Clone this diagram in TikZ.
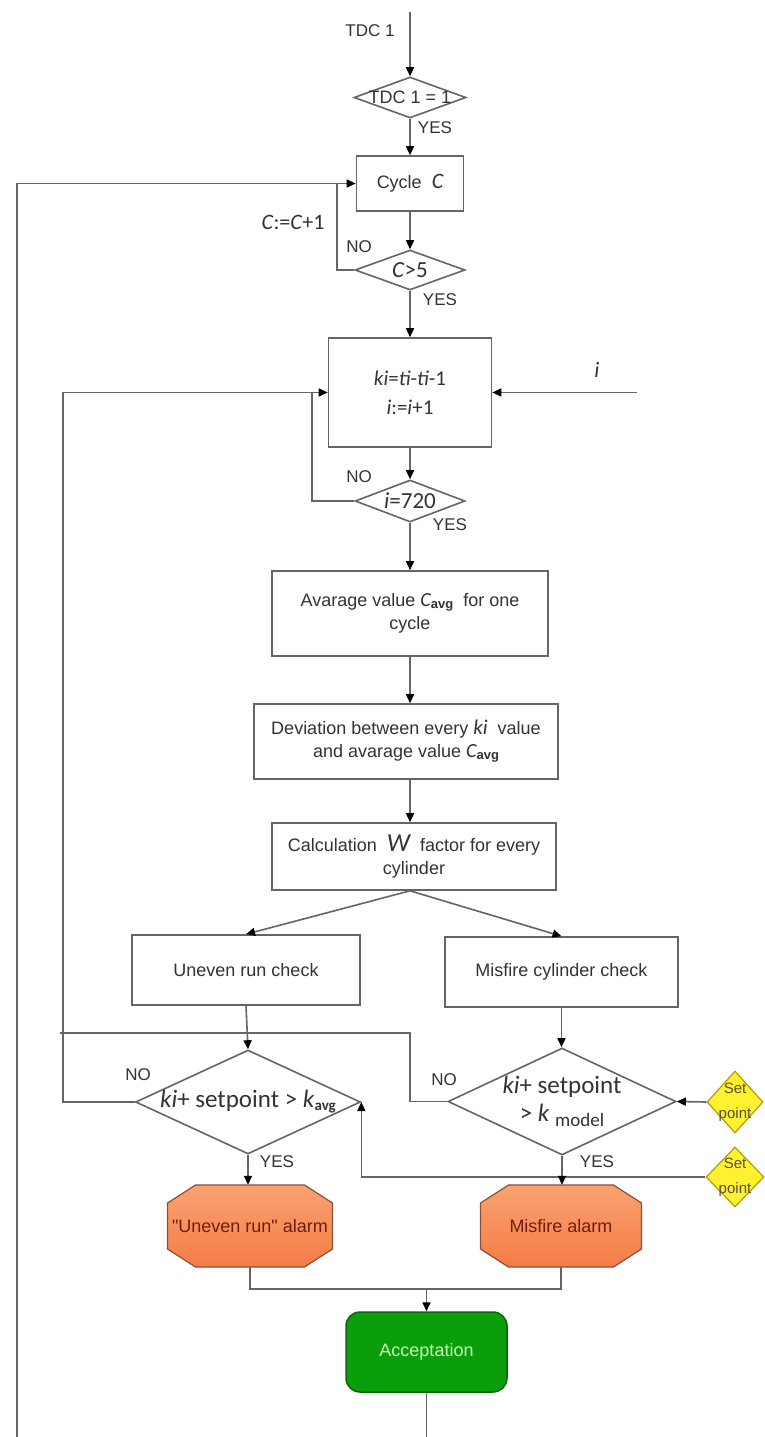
\documentclass[tikz,border=0pt]{standalone}
\usepackage{fontspec}
\setmainfont{Liberation Sans}
\newfontfamily\carl{Carlito}
\usetikzlibrary{shapes.geometric,arrows.meta,calc}
\definecolor{lncol}{HTML}{656565}
\definecolor{txcol}{HTML}{333333}
\definecolor{alfillA}{HTML}{FBA272}
\definecolor{alfillB}{HTML}{F47C46}
\definecolor{aldraw}{HTML}{8A5038}
\definecolor{altext}{HTML}{6E1E0A}
\definecolor{accfill}{HTML}{0A9E0A}
\definecolor{accdraw}{HTML}{0B650B}
\definecolor{acctext}{HTML}{C8F5B8}
\definecolor{spfill}{HTML}{FFF030}
\definecolor{spdraw}{HTML}{B0A000}
\definecolor{sptext}{HTML}{5A5030}
\newcommand\fsz[2]{\fontsize{#1}{#2}\selectfont}
\newcommand\avgsub{\raisebox{-2pt}{\fsz{13}{13}\bfseries avg}}
\newcommand\octshape[4]{%
 \shadedraw[octa] ({#1-#3+28},{#2-#4}) -- ({#1+#3-28},{#2-#4}) -- ({#1+#3},{#2-#4+18}) -- ({#1+#3},{#2+#4-18}) -- ({#1+#3-28},{#2+#4}) -- ({#1-#3+28},{#2+#4}) -- ({#1-#3},{#2+#4-18}) -- ({#1-#3},{#2-#4+18}) -- cycle;}
\begin{document}
\begin{tikzpicture}[x=1pt,y=-1pt,
 ln/.style={draw=lncol,line width=1.6pt},
 arr/.style={ln,-{Triangle[length=9pt,width=8pt,color=black]}},
 box/.style={rectangle,draw=lncol,line width=1.6pt,fill=white,inner sep=0pt,align=center,text=txcol,font=\fsz{18}{23}},
 dia/.style={diamond,draw=lncol,line width=1.6pt,fill=white,inner sep=0pt},
 lab/.style={inner sep=0pt,text=txcol,font=\fsz{17}{20}},
 frm/.style={inner sep=0pt,text=txcol,align=center},
 octa/.style={draw=aldraw,line width=1.2pt,top color=alfillA,bottom color=alfillB},
 alarm/.style={rectangle,inner sep=0pt,text=altext,font=\fsz{18}{20}},
 accbox/.style={rectangle,rounded corners=14pt,draw=accdraw,line width=1.5pt,fill=accfill,text=acctext,font=\fsz{18}{22},inner sep=0pt},
 spdia/.style={diamond,draw=spdraw,line width=1.2pt,fill=spfill,inner sep=0pt},
 sptxt/.style={inner sep=0pt,text=sptext,align=center,font=\fsz{15}{25}},
]
\useasboundingbox (0,0) rectangle (764,1437);
\fill[white] (0,0) rectangle (764,1437);

% ---------- nodes ----------
\node[lab] (tdcl) at (370,31) {TDC 1};
\coordinate (top) at (410,12);
\node[dia,minimum width=112pt,minimum height=41pt] (d1) at (410,97.5) {};
\node[frm,font=\fsz{18}{20}] (d1t) at (d1) {TDC 1 = 1};

\node[box,minimum width=107pt,minimum height=55pt] (cyc) at (410,183.5) {Cycle\ \ {\carl\fsz{22}{22}\itshape C}};

\node[dia,minimum width=110pt,minimum height=40pt] (d2) at (410,270) {};
\node[frm,font=\carl\fsz{23}{24}] (d2t) at (d2) {\textit{C}>5};

\node[box,minimum width=163pt,minimum height=109pt,font=\carl\fsz{21}{29}] (main) at (410,392.5) {\textit{ki}=\textit{ti}-\textit{ti}-1\\\textit{i}:=\textit{i}+1};

\node[dia,minimum width=110pt,minimum height=42pt] (d3) at (410,501) {};
\node[frm,font=\carl\fsz{23}{24}] (d3t) at (d3) {\textit{i}=720};

\node[box,minimum width=276pt,minimum height=85pt] (avg) at (410,613.5) {Avarage value {\carl\fsz{20}{20}\itshape C}\avgsub\ \ for one\\cycle};

\node[box,minimum width=304pt,minimum height=75pt] (dev) at (406,741.5) {Deviation between every {\carl\fsz{21}{21}\itshape ki}\ \ value\\and avarage value {\carl\fsz{20}{20}\itshape C}\avgsub};

\node[box,minimum width=284pt,minimum height=67pt] (calc) at (414,856.5) {Calculation\ \ {\carl\fsz{26}{26}\itshape W}\ \ factor for every\\cylinder};

\node[box,minimum width=228pt,minimum height=70pt] (unev) at (246,970) {Uneven run check};
\node[box,minimum width=233pt,minimum height=70pt] (misc) at (561.5,972) {Misfire cylinder check};

\node[dia,minimum width=225pt,minimum height=104pt] (d4) at (248,1102) {};
\node[frm,font=\carl\fsz{25}{28}] (d4t) at (d4) {\textit{ki}+ setpoint > \textit{k}\raisebox{-3pt}{\fsz{15}{15}\bfseries avg}};

\node[dia,minimum width=228pt,minimum height=107pt] (d5) at (562,1101.5) {};
\node[frm,font=\carl\fsz{25}{28}] (d5t) at (d5) {\textit{ki}+ setpoint\\> \textit{k}\ \raisebox{-5pt}{\fsz{19}{19}model}};

\node[spdia,minimum width=56pt,minimum height=62pt] (sp1) at (735,1102) {};
\node[sptxt] (sp1t) at (sp1) {Set\\point};
\node[spdia,minimum width=58pt,minimum height=60pt] (sp2) at (735,1177) {};
\node[sptxt] (sp2t) at (sp2) {Set\\point};

\octshape{250}{1226}{82.5}{41}
\node[alarm,minimum width=165pt,minimum height=82pt] (ua) at (250,1226) {\textquotedbl Uneven run\textquotedbl\ alarm};
\octshape{561}{1226}{80.5}{41}
\node[alarm,minimum width=161pt,minimum height=82pt] (ma) at (561,1226) {Misfire alarm};

\node[accbox,minimum width=161pt,minimum height=80pt] (acc) at (426.5,1352) {Acceptation};

% ---------- labels ----------
\node[lab] (y1) at (435,128) {YES};
\node[lab,font=\carl\fsz{22}{22}] (cinc) at (293,222) {\textit{C}:=\textit{C}+1};
\node[lab] (n2) at (359,247) {NO};
\node[lab] (y2) at (440,300) {YES};
\node[lab,font=\carl\fsz{22}{22}] (ilab) at (597,370) {\textit{i}};
\node[lab] (n3) at (359,477) {NO};
\node[lab] (y3) at (450,525) {YES};
\node[lab] (n4) at (138,1075) {NO};
\node[lab] (y4) at (277,1162) {YES};
\node[lab] (n5) at (444,1080) {NO};
\node[lab] (y5) at (597,1162) {YES};

% ---------- connectors ----------
\draw[arr] (top) -- (d1.north);
\draw[arr] (d1.south) -- (d1.south |- cyc.north);
\draw[arr] (cyc.south) -- (cyc.south |- d2.north);
\coordinate (cb) at (17,1437);
\draw[arr] (cb) |- (cyc.west);
\coordinate (cl) at (337,183.5);
\draw[ln] (d2.west) -| (cl);
\draw[arr] (d2.south) -- (d2.south |- main.north);
\coordinate (iin) at (637,392.5);
\draw[arr] (iin) -- (main.east);
\draw[arr] (main.south) -- (main.south |- d3.north);
\coordinate (jl) at (312,392.5);
\draw[ln] (d3.west) -| (jl);
\coordinate (jL) at (63,392.5);
\draw[arr] (d4.west) -| (jL) -- (main.west);
\draw[arr] (d3.south) -- (d3.south |- avg.north);
\draw[arr] (avg.south) -- (avg.south |- dev.north);
\draw[arr] (avg.south |- dev.south) -- (avg.south |- calc.north);
\draw[arr] (calc.south -| avg.south) -- (unev.north);
\draw[arr] (calc.south -| avg.south) -- (misc.north);
\draw[arr] (unev.south) -- (d4.north);
\draw[arr] (misc.south) -- (misc.south |- d5.north);
\coordinate (n5a) at (410,1033);
\coordinate (n5b) at (60,1033);
\draw[ln] (d5.west) -| (n5a) -- (n5b);
\draw[arr] (sp1.west) -- (d5.east);
\draw[arr] (sp2.west) -| (d4.east);
\draw[arr] (d4.south) -- (d4.south |- ua.north);
\draw[arr] (d5.south) -- (d5.south |- ma.north);
\draw[ln] (ua.south) -- ++(0,22) -| (ma.south);
\coordinate (mid) at (426.5,1289);
\draw[arr] (mid) -- (acc.north);
\coordinate (ab) at (426.5,1437);
\draw[ln] (acc.south) -- (ab);
\end{tikzpicture}
\end{document}
